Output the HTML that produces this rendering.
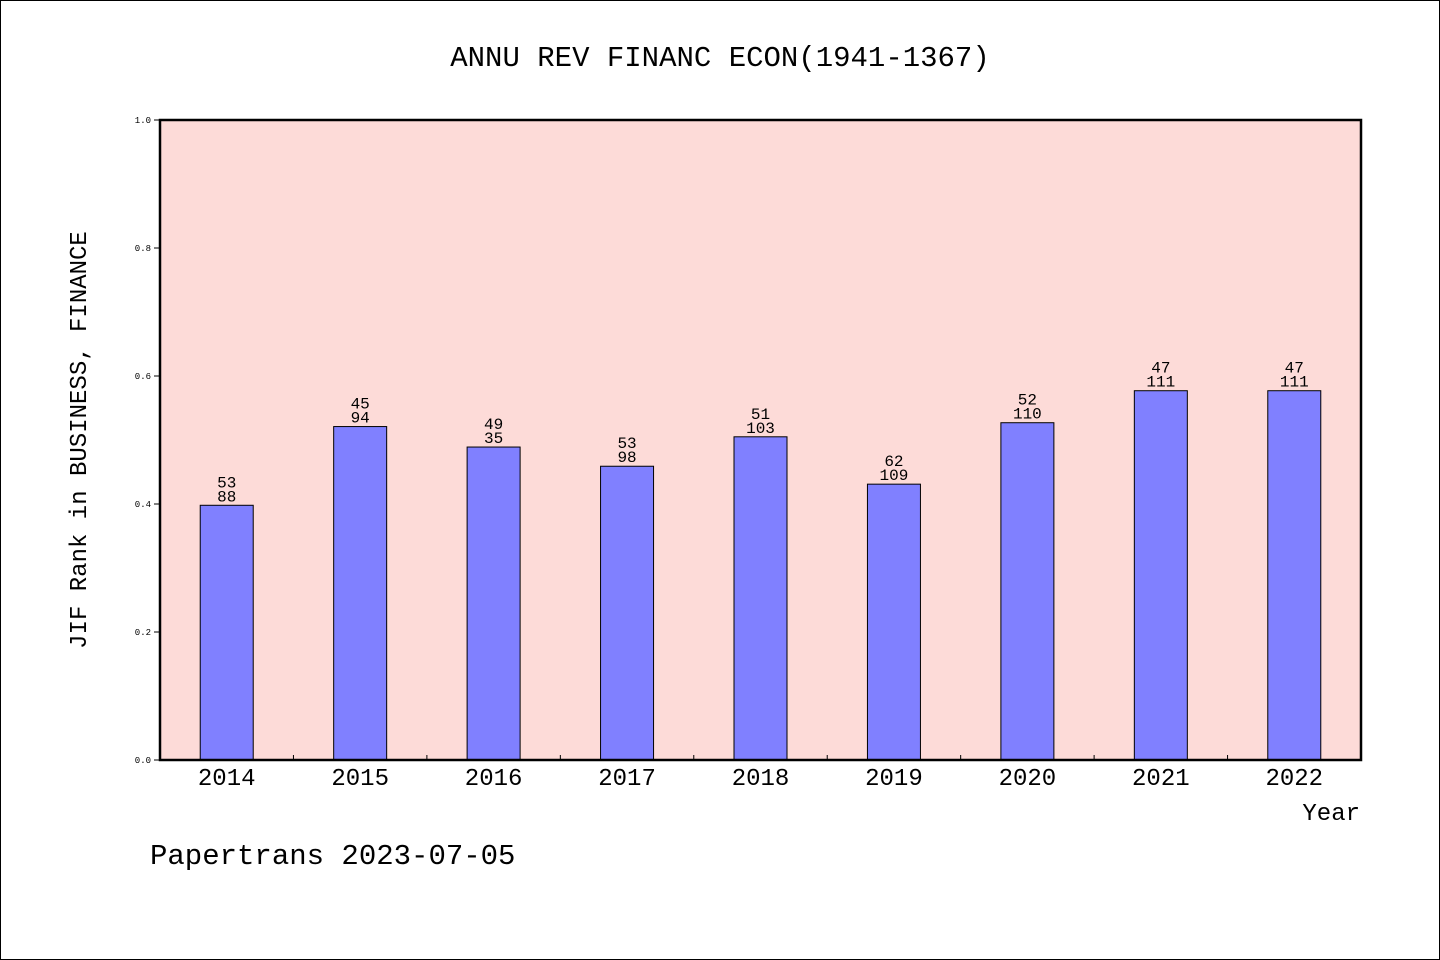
<!DOCTYPE html>
<html><head><meta charset="utf-8"><style>
html,body{margin:0;padding:0;background:#fff}
svg{display:block}
text{font-family:"WenQuanYi Zen Hei","Liberation Mono",monospace;fill:#000}
</style></head><body>
<svg width="1440" height="960" id="c">
<rect x="0.5" y="0.5" width="1439" height="959" fill="#fff" stroke="#000"/>
<text x="720" y="66" font-size="29" text-anchor="middle">ANNU REV FINANC ECON(1941-1367)</text>
<rect x="160" y="120" width="1201" height="640" fill="#fddbd8"/>
<g id="bars"></g>
<rect x="160" y="120" width="1201" height="640" fill="none" stroke="#000" stroke-width="2.5"/>
<g id="axes"></g>
<text x="86" y="440" font-size="24" text-anchor="middle" transform="rotate(-90 86 440)">JIF Rank in BUSINESS, FINANCE</text>
<text x="1360" y="820" font-size="24" text-anchor="end">Year</text>
<text x="150" y="864" font-size="29">Papertrans 2023-07-05</text>
</svg>
<script>
const years=["2014","2015","2016","2017","2018","2019","2020","2021","2022"];
const values=[0.398,0.521,0.489,0.459,0.505,0.431,0.527,0.577,0.577];
const ranks=["53","45","49","53","51","62","52","47","47"];
const totals=["88","94","35","98","103","109","110","111","111"];
const yTicks=[0,0.2,0.4,0.6,0.8,1.0];
const NS="http://www.w3.org/2000/svg";
const X0=160,X1=1361,Y0=760,Y1=120;
const slot=(X1-X0)/years.length;
const xc=i=>X0+slot*(i+0.5);
const y=v=>Y0-(Y0-Y1)*v;
function mk(t,a,p){const e=document.createElementNS(NS,t);for(const k in a)e.setAttribute(k,a[k]);p.appendChild(e);return e;}
const bars=document.getElementById('bars'),axes=document.getElementById('axes');
years.forEach((yr,i)=>{
 const r=mk('rect',{x:xc(i)-26.5,y:y(values[i]),width:53,height:Y0-y(values[i]),fill:'#8080ff',stroke:'#000','stroke-width':1},bars);
 
 
 const t1=mk('text',{x:xc(i),y:y(values[i])-18,'font-size':16,'text-anchor':'middle'},bars);t1.textContent=ranks[i];
 
 
 const t2=mk('text',{x:xc(i),y:y(values[i])-4,'font-size':16,'text-anchor':'middle'},bars);t2.textContent=totals[i];
 
 
 const xl=mk('text',{x:xc(i),y:785,'font-size':24,'text-anchor':'middle'},axes);xl.textContent=yr;
 
 
 if(i>0){const tk=mk('line',{x1:X0+slot*i,x2:X0+slot*i,y1:Y0,y2:Y0-5,stroke:'#000'},axes);
 
 }
});
yTicks.forEach(v=>{
 const l=mk('line',{x1:X0-6,x2:X0,y1:y(v),y2:y(v),stroke:'#000'},axes);
 
 
 const t=mk('text',{x:X0-9,y:y(v)+3,'font-size':9,'text-anchor':'end'},axes);t.textContent=v.toFixed(1);
 
 
});
</script>
</body></html>
